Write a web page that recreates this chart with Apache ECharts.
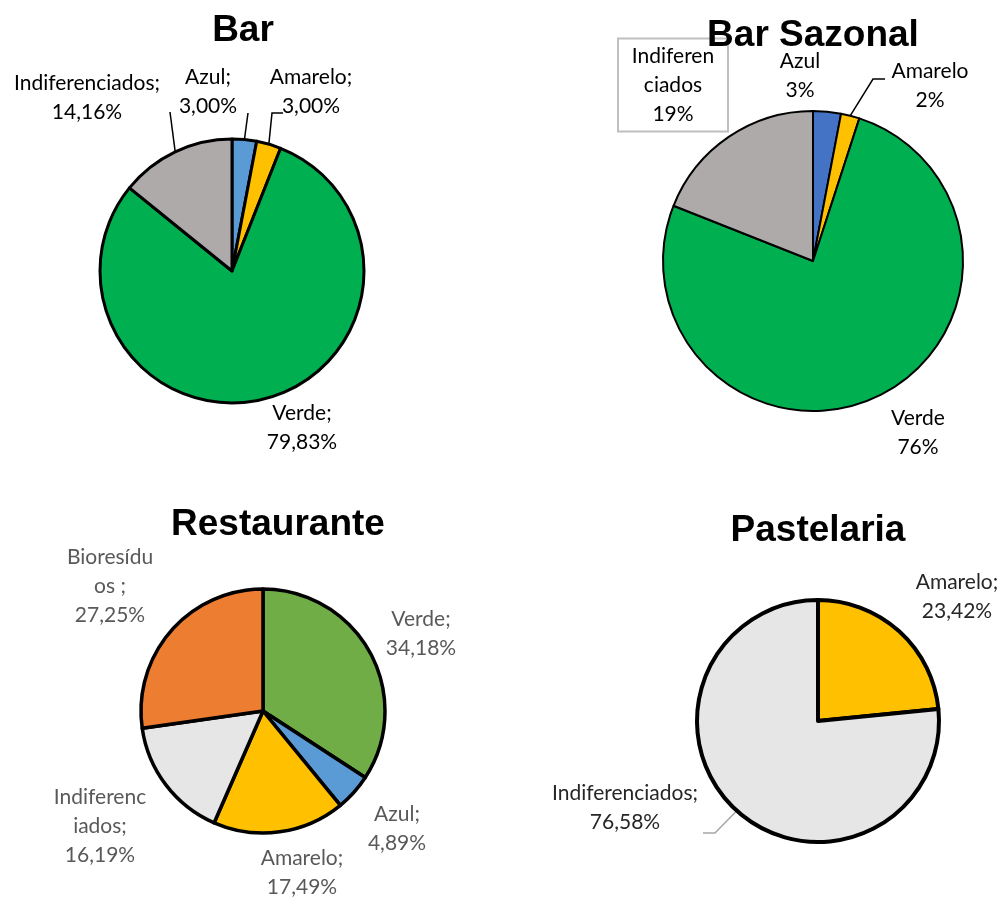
<!DOCTYPE html>
<html>
<head>
<meta charset="utf-8">
<title>Resíduos por setor</title>
<script src="https://cdn.jsdelivr.net/npm/echarts@6/dist/echarts.min.js"></script>
<style>
  html, body { margin: 0; padding: 0; background: #fff; }
  #chart { width: 1006px; height: 900px; }
</style>
</head>
<body>
<div id="chart"></div>
<script>
// dados (percentagens)
var barNames = ['Azul', 'Amarelo', 'Verde', 'Indiferenciados'];
var barValues = [3.00, 3.00, 79.83, 14.16];

var sazonalNames = ['Azul', 'Amarelo', 'Verde', 'Indiferenciados'];
var sazonalValues = [3, 2, 76, 19];

var restNames = ['Verde', 'Azul', 'Amarelo', 'Indiferenciados', 'Bioresíduos'];
var restValues = [34.18, 4.89, 17.49, 16.19, 27.25];

var pastNames = ['Amarelo', 'Indiferenciados'];
var pastValues = [23.42, 76.58];

var titles = ['Bar', 'Bar Sazonal', 'Restaurante', 'Pastelaria'];

// estilos
var colorsA = { Azul: '#5B9BD5', Amarelo: '#FFC000', Verde: '#00B050', Indiferenciados: '#AEAAAA' };
var colorsB = { Azul: '#4472C4', Amarelo: '#FFC000', Verde: '#00B050', Indiferenciados: '#AEAAAA' };
var colorsC = { Azul: '#5B9BD5', Amarelo: '#FFC000', Verde: '#70AD47', Indiferenciados: '#E7E6E6', 'Bioresíduos': '#ED7D31' };
// nomes quebrados como no Excel
var restWrap = { 'Bioresíduos': 'Bioresídu\nos ', 'Indiferenciados': 'Indiferenc\niados' };

// posição do centro de cada rótulo, pela ordem dos dados
var barLabelPos = [[208, 92], [311, 92], [302, 428], [87, 98]];
var sazonalLabelPos = [[800, 76], [930, 86], [918, 433], [673, 85]];
var restLabelPos = [[421, 634], [397, 829], [302, 873], [100, 826], [110, 586]];
var pastLabelPos = [[957, 597], [625, 808]];

// pontos das linhas de chamada (depois do ponto na borda da fatia)
var barGuides = { 0: [[248, 113]], 1: [[272, 113], [283, 113]], 3: [[170, 112]] };
var sazonalGuides = { 1: [[873, 79], [885, 79]] };
var pastGuides = { 1: [[715, 833], [703, 833]] };

function pct(v) {
    return v.toFixed(2).replace('.', ',') + '%';
}

function makeData(names, values, colors, lines) {
    return names.map(function (n, i) {
        return {
            name: n,
            value: values[i],
            itemStyle: { color: colors[n] },
            labelLine: { show: lines.indexOf(n) >= 0 }
        };
    });
}

function layoutFrom(pos, guides) {
    return function (params) {
        var p = pos[params.dataIndex];
        var out = { x: p[0], y: p[1], align: 'center', verticalAlign: 'middle' };
        if (guides && guides[params.dataIndex] && params.labelLinePoints) {
            out.labelLinePoints = [params.labelLinePoints[0]].concat(guides[params.dataIndex]);
        }
        return out;
    };
}

var labelBase = {
    show: true,
    fontFamily: 'Lato',
    fontSize: 21,
    lineHeight: 29,
    align: 'center'
};

var chart = echarts.init(document.getElementById('chart'), null, { renderer: 'canvas' });

var titleBase = {
    textAlign: 'center',
    padding: 0,
    textStyle: { fontFamily: 'Liberation Sans', fontWeight: 'bold', fontSize: 37, color: '#000', lineHeight: 40 }
};

var sazonalData = makeData(sazonalNames, sazonalValues, colorsB, ['Amarelo']);
sazonalData[3].label = {
    borderColor: '#BFBFBF', borderWidth: 2, backgroundColor: '#fff',
    padding: [2, 8, 2, 8], width: 92
};

var option = {
    backgroundColor: '#fff',
    animation: false,
    title: [
        Object.assign({ text: titles[0], left: 243, top: 11 }, titleBase),
        Object.assign({ text: titles[1], left: 813, top: 16 }, titleBase),
        Object.assign({ text: titles[2], left: 278, top: 505 }, titleBase),
        Object.assign({ text: titles[3], left: 818, top: 511 }, titleBase)
    ],
    series: [
        {
            type: 'pie',
            center: [232, 271],
            radius: 132,
            startAngle: 90,
            avoidLabelOverlap: false,
            itemStyle: { borderColor: '#000', borderWidth: 3 },
            label: Object.assign({}, labelBase, {
                color: '#000',
                formatter: function (p) { return p.name + ';\n' + pct(p.value); }
            }),
            labelLine: { lineStyle: { color: '#000', width: 1.5 }, length: 10, length2: 8 },
            labelLayout: layoutFrom(barLabelPos, barGuides),
            emphasis: { disabled: true },
            data: makeData(barNames, barValues, colorsA, ['Azul', 'Amarelo', 'Indiferenciados'])
        },
        {
            type: 'pie',
            center: [813, 261],
            radius: 150,
            startAngle: 90,
            avoidLabelOverlap: false,
            itemStyle: { borderColor: '#000', borderWidth: 2 },
            label: Object.assign({}, labelBase, {
                color: '#000',
                formatter: function (p) { return p.name.replace('Indiferenciados', 'Indiferen\nciados') + '\n' + p.value + '%'; }
            }),
            labelLine: { lineStyle: { color: '#000', width: 1.5 }, length: 10, length2: 8 },
            labelLayout: layoutFrom(sazonalLabelPos, sazonalGuides),
            emphasis: { disabled: true },
            data: sazonalData
        },
        {
            type: 'pie',
            center: [263, 711],
            radius: 122,
            startAngle: 90,
            avoidLabelOverlap: false,
            itemStyle: { borderColor: '#000', borderWidth: 3.5 },
            label: Object.assign({}, labelBase, {
                color: '#595959',
                formatter: function (p) { return (restWrap[p.name] || p.name) + ';\n' + pct(p.value); }
            }),
            labelLayout: layoutFrom(restLabelPos),
            emphasis: { disabled: true },
            data: makeData(restNames, restValues, colorsC, [])
        },
        {
            type: 'pie',
            center: [818, 721],
            radius: 121,
            startAngle: 90,
            avoidLabelOverlap: false,
            itemStyle: { borderColor: '#000', borderWidth: 4 },
            label: Object.assign({}, labelBase, {
                color: '#262626',
                formatter: function (p) { return p.name + ';\n' + pct(p.value); }
            }),
            labelLine: { lineStyle: { color: '#A6A6A6', width: 1.5 }, length: 10, length2: 10 },
            labelLayout: layoutFrom(pastLabelPos, pastGuides),
            emphasis: { disabled: true },
            data: makeData(pastNames, pastValues, colorsC, ['Indiferenciados'])
        }
    ]
};

chart.setOption(option);
</script>
</body>
</html>
